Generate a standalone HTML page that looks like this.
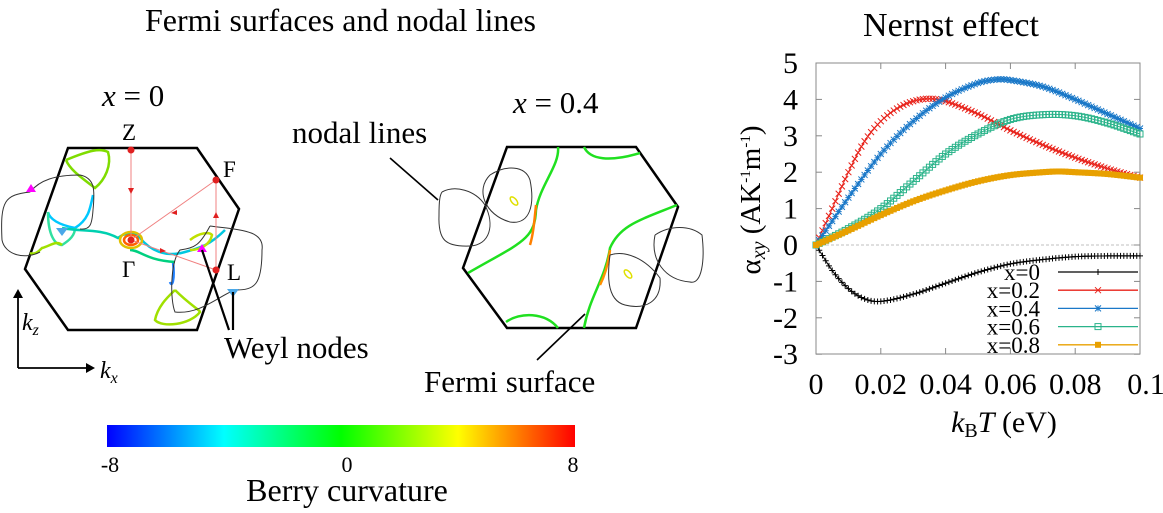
<!DOCTYPE html>
<html><head><meta charset="utf-8"><style>
body{margin:0;background:#fff}
svg{display:block}
text{font-family:"Liberation Serif","DejaVu Serif",serif}
</style></head><body>
<svg id="s" width="1163" height="513" viewBox="0 0 1163 513" xmlns="http://www.w3.org/2000/svg" font-family="Liberation Serif, serif">
<defs>
<linearGradient id="cb" x1="0" x2="1" y1="0" y2="0">
<stop offset="0" stop-color="#0000ff"/><stop offset="0.25" stop-color="#00ffff"/><stop offset="0.5" stop-color="#00ff00"/><stop offset="0.75" stop-color="#ffff00"/><stop offset="1" stop-color="#ff0000"/>
</linearGradient>
</defs>
<text x="145" y="31" font-size="32">Fermi surfaces and nodal lines</text>
<text x="951" y="36" font-size="34" text-anchor="middle">Nernst effect</text>

<!-- left panel -->
<text x="102" y="106" font-size="31"><tspan font-style="italic">x</tspan> = 0</text>
<polygon points="68,148 197,148 239,209 197,330 68,330 25,269" fill="none" stroke="#000" stroke-width="2.5"/>
<g fill="none" stroke-width="2.5">
<path d="M66,160 C90,150 100,148 108,152 C112,165 105,180 95,188 C82,178 70,170 66,160" stroke="#7fdc00"/>
<path d="M93,195 C90,210 88,220 75,228 C60,225 50,220 48,212" stroke="#00c8ff"/>
<path d="M48,212 C48,235 55,245 62,245 C70,240 75,235 75,228" stroke="#30e0a0"/>
<path d="M30,253 C35,255 38,252 42,248 C50,246 56,240 62,245" stroke="#a0e000"/>
<path d="M62,228 C80,232 100,228 118,238 C125,232 135,232 140,238" stroke="#00d0b0"/>
<path d="M140,238 C150,250 165,258 185,252 C200,248 210,245 225,230" stroke="#00c8e0"/>
<path d="M173,262 C175,280 172,288 170,282" stroke="#2080ff"/>
<path d="M130,250 C140,250 145,260 175,262" stroke="#00d080"/>
<path d="M175,290 C190,305 200,310 200,312 C190,325 162,328 155,320 C158,305 170,295 175,290" stroke="#a0e000"/>
<path d="M190,240 C200,232 210,232 212,235 C210,245 200,250 190,250" stroke="#c0e000"/>
<ellipse cx="131" cy="240" rx="11" ry="8" stroke="#e0c000"/>
<ellipse cx="131" cy="240" rx="7" ry="5" stroke="#ff6000"/>
</g>
<g fill="none" stroke="#333" stroke-width="1">
<path d="M30,192 C5,195 0,200 2,240 C5,255 25,260 40,252 M30,192 C40,180 55,175 80,175 C95,178 95,190 93,210 C92,225 90,230 80,229"/>
<path d="M210,226 C240,230 265,230 262,250 C262,285 255,290 235,290 C220,295 200,315 175,312 C170,300 170,262 180,250 C195,248 200,245 210,226"/>
</g>
<g stroke="#f08080" stroke-width="1" fill="none">
<line x1="131" y1="150" x2="131" y2="240"/>
<line x1="216" y1="180" x2="131" y2="240"/>
<line x1="216" y1="180" x2="216" y2="270"/>
<line x1="131" y1="240" x2="216" y2="270"/>
</g>
<g fill="#e02020"><circle cx="131" cy="150" r="3.5"/><circle cx="216" cy="180" r="3.5"/><circle cx="131" cy="240" r="3.5"/><circle cx="216" cy="270" r="3.5"/>
<path d="M128,188 l3,6 l3,-6z"/><path d="M177,210 l-6,3 l6,2z"/><path d="M213,218 l3,-6 l3,6z"/><path d="M160,248 l6,3 l-6,2z"/></g>
<path d="M26,192 l5,-8 l5,8z" fill="#ff00ff"/><path d="M197,252 l5,-8 l5,8z" fill="#ff00ff"/>
<path d="M56,228 l6,8 l6,-8z" fill="#4aa8e8"/><path d="M227,289 l6,8 l6,-8z" fill="#4aa8e8"/>
<text x="122" y="140" font-size="23">Z</text><text x="223" y="177" font-size="23">F</text>
<text x="122" y="277" font-size="23">Γ</text><text x="227" y="280" font-size="23">L</text>
<g stroke="#000" stroke-width="2.2"><line x1="202" y1="250" x2="229" y2="330"/><line x1="233" y1="292" x2="233" y2="330"/></g>
<text x="224" y="358" font-size="31">Weyl nodes</text>
<g stroke="#000" stroke-width="1.8"><line x1="18" y1="368" x2="18" y2="295"/><line x1="18" y1="368" x2="88" y2="368"/></g>
<path d="M13,298 l5,-9 l5,9z M86,363 l9,5 l-9,5z"/>
<text x="22" y="330" font-size="24" font-style="italic">k<tspan font-size="16" dy="5">z</tspan></text>
<text x="100" y="378" font-size="24" font-style="italic">k<tspan font-size="16" dy="5">x</tspan></text>

<!-- middle panel -->
<text x="513" y="113" font-size="31"><tspan font-style="italic">x</tspan> = 0.4</text>
<text x="292" y="143" font-size="31">nodal lines</text>
<line x1="390" y1="158" x2="438" y2="200" stroke="#000" stroke-width="1.6"/>
<polygon points="507,147 636,147 678,207 636,328 507,328 463,268" fill="none" stroke="#000" stroke-width="2.5"/>
<g fill="none" stroke-width="2.5" stroke="#20e020">
<path d="M558,147 C560,165 540,185 536,210 C535,240 520,243 468,273"/>
<path d="M584,147 C590,160 610,162 640,153"/>
<path d="M677,205 C640,220 620,225 610,248 C605,280 590,295 584,328"/>
<path d="M506,322 C520,312 545,312 558,328"/>
</g>
<path d="M536,205 C534,225 533,235 530,245" stroke="#ff8000" stroke-width="2.5" fill="none"/>
<path d="M610,250 C608,265 605,275 600,285" stroke="#ff9000" stroke-width="2.5" fill="none"/>
<g fill="none" stroke="#333" stroke-width="1">
<path d="M442,192 C455,185 475,190 485,205 C495,225 490,245 470,246 C445,247 438,240 439,215 C439,200 440,195 442,192"/>
<path d="M490,175 C505,165 525,165 530,180 C535,205 530,225 510,222 C485,215 475,190 490,175"/>
<path d="M655,235 C670,225 690,225 702,235 C705,260 702,285 690,282 C665,280 650,260 655,235"/>
<path d="M610,255 C625,250 645,258 660,278 C662,302 645,310 625,305 C605,300 608,270 610,255"/>
</g>
<ellipse cx="514" cy="201" rx="2.5" ry="5" transform="rotate(-40 514 201)" fill="none" stroke="#e0e000" stroke-width="1.5"/>
<ellipse cx="628" cy="274" rx="2.5" ry="5" transform="rotate(-40 628 274)" fill="none" stroke="#e0e000" stroke-width="1.5"/>
<line x1="537" y1="360" x2="585" y2="314" stroke="#000" stroke-width="1.6"/>
<text x="424" y="392" font-size="31">Fermi surface</text>

<!-- colorbar -->
<rect x="107" y="425" width="468" height="22" fill="url(#cb)"/>
<text x="110" y="472" font-size="22" text-anchor="middle">-8</text>
<text x="347" y="472" font-size="22" text-anchor="middle">0</text>
<text x="573" y="472" font-size="22" text-anchor="middle">8</text>
<text x="347" y="501" font-size="32" text-anchor="middle">Berry curvature</text>

<!-- right plot -->
<g id="plot"></g>
</svg>
<script>
const NS="http://www.w3.org/2000/svg",g=document.getElementById("plot");
function el(t,a,p){const e=document.createElementNS(NS,t);for(const k in a)e.setAttribute(k,a[k]);(p||g).appendChild(e);return e}
const X=v=>816+v*3240,Y=v=>245-v*36.4;
el("rect",{x:816,y:63,width:324,height:291,fill:"none",stroke:"#888","stroke-width":1});
el("line",{x1:816,y1:245,x2:1140,y2:245,stroke:"#aaa","stroke-dasharray":"3,2","stroke-width":0.8});
for(let v=-3;v<=5;v++){const y=Y(v);el("line",{x1:816,y1:y,x2:822,y2:y,stroke:"#888"});el("line",{x1:1134,y1:y,x2:1140,y2:y,stroke:"#888"});
const t=el("text",{x:798,y:y+10,"font-size":30,"text-anchor":"end"});t.textContent=v;}
["0","0.02","0.04","0.06","0.08","0.1"].forEach((s,i)=>{const x=X(i*0.02);el("line",{x1:x,y1:354,x2:x,y2:348,stroke:"#888"});el("line",{x1:x,y1:63,x2:x,y2:69,stroke:"#888"});
const t=el("text",{x:i==5?x+6:x,y:394,"font-size":30,"text-anchor":"middle"});t.textContent=s;});
let t=el("text",{x:1004,y:432,"font-size":30,"text-anchor":"middle"});t.innerHTML='<tspan font-style="italic">k</tspan><tspan font-size="20" dy="5">B</tspan><tspan font-style="italic" dy="-5">T</tspan> (eV)';
t=el("text",{x:0,y:0,"font-size":29,"text-anchor":"middle",transform:"translate(760,200) rotate(-90)"});t.innerHTML='α<tspan font-size="20" font-style="italic" dy="5">xy</tspan><tspan dy="-5"> (AK</tspan><tspan font-size="15" dy="-10">-1</tspan><tspan dy="10">m</tspan><tspan font-size="15" dy="-10">-1</tspan><tspan dy="10">)</tspan>';
const S=[
["#000","+",[[0,0],[.005,-.7],[.01,-1.2],[.015,-1.48],[.02,-1.55],[.03,-1.35],[.04,-1.05],[.05,-.75],[.06,-.52],[.07,-.4],[.08,-.32],[.09,-.3],[.1,-.3]],"x=0"],
["#e8221a","x",[[0,0],[.005,1],[.01,2],[.015,2.85],[.02,3.4],[.025,3.75],[.03,3.95],[.035,4.02],[.04,3.95],[.05,3.6],[.06,3.15],[.07,2.75],[.08,2.4],[.09,2.1],[.1,1.85]],"x=0.2"],
["#1a78c8","*",[[0,0],[.01,1.3],[.02,2.5],[.03,3.4],[.04,4.05],[.05,4.45],[.056,4.55],[.06,4.53],[.07,4.35],[.08,4],[.09,3.6],[.1,3.2]],"x=0.4"],
["#2ab38a","s",[[0,0],[.01,.45],[.02,1],[.03,1.75],[.04,2.5],[.05,3.05],[.06,3.45],[.07,3.58],[.08,3.55],[.09,3.35],[.1,3.05]],"x=0.6"],
["#e8a000","S",[[0,0],[.01,.4],[.02,.82],[.03,1.2],[.04,1.5],[.05,1.75],[.06,1.92],[.07,2],[.075,2.02],[.08,2],[.09,1.95],[.1,1.85]],"x=0.8"]];
function interp(P,x){for(let i=1;i<P.length;i++)if(x<=P[i][0]+1e-12){const a=P[i-1],b=P[i],u=(x-a[0])/(b[0]-a[0]);
const p0=P[Math.max(i-2,0)],p3=P[Math.min(i+1,P.length-1)];const m1=(b[1]-p0[1])/(b[0]-p0[0])*(b[0]-a[0]),m2=(p3[1]-a[1])/(p3[0]-a[0])*(b[0]-a[0]);
const u2=u*u,u3=u2*u;return (2*u3-3*u2+1)*a[1]+(u3-2*u2+u)*m1+(-2*u3+3*u2)*b[1]+(u3-u2)*m2;}return P[P.length-1][1]}
function mk(c,m,x,y,p){const r=3;if(m=="+")el("path",{d:`M${x-r},${y}h${2*r}M${x},${y-r}v${2*r}`,stroke:c,"stroke-width":1},p);
else if(m=="x")el("path",{d:`M${x-r},${y-r}l${2*r},${2*r}M${x-r},${y+r}l${2*r},${-2*r}`,stroke:c,"stroke-width":1},p);
else if(m=="*")el("path",{d:`M${x-r},${y-r}l${2*r},${2*r}M${x-r},${y+r}l${2*r},${-2*r}M${x-r},${y}h${2*r}M${x},${y-r}v${2*r}`,stroke:c,"stroke-width":1},p);
else if(m=="s")el("rect",{x:x-r,y:y-r,width:2*r,height:2*r,fill:"none",stroke:c,"stroke-width":1},p);
else el("rect",{x:x-r,y:y-r,width:2*r,height:2*r,fill:c},p);}
S.forEach((s,k)=>{let d="";const pts=[];for(let i=0;i<=100;i++){const x=i*0.001,y=interp(s[2],x);pts.push([X(x),Y(y)]);d+=(i?"L":"M")+X(x).toFixed(1)+","+Y(y).toFixed(1);}
el("path",{d,fill:"none",stroke:s[0],"stroke-width":1});pts.forEach(p=>mk(s[0],s[1],p[0],p[1]));
const ly=272+k*18.2;el("line",{x1:1058,y1:ly,x2:1138,y2:ly,stroke:s[0],"stroke-width":1.3});mk(s[0],s[1],1098,ly);
const tt=el("text",{x:1040,y:ly+8,"font-size":23,"text-anchor":"end"});tt.textContent=s[3];});
</script>
</body></html>
